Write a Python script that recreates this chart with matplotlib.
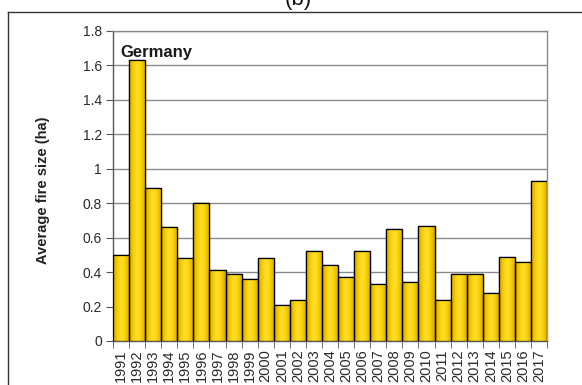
import numpy as np
import matplotlib
matplotlib.use("Agg")
import matplotlib.pyplot as plt
from matplotlib.lines import Line2D
from matplotlib.colors import LinearSegmentedColormap

plt.rcParams['font.family'] = ['Liberation Sans', 'DejaVu Sans']

years = [str(y) for y in range(1991, 2018)]
avg_fire_size = [0.50, 1.63, 0.89, 0.66, 0.48, 0.80, 0.41, 0.39, 0.36, 0.48,
                 0.21, 0.24, 0.52, 0.44, 0.37, 0.52, 0.33, 0.65, 0.34, 0.67,
                 0.24, 0.39, 0.39, 0.28, 0.49, 0.46, 0.93]
y_ticks = [0, 0.2, 0.4, 0.6, 0.8, 1.0, 1.2, 1.4, 1.6, 1.8]
y_tick_labels = ["0", "0.2", "0.4", "0.6", "0.8", "1", "1.2", "1.4", "1.6", "1.8"]

fig = plt.figure(figsize=(5.82, 3.85), dpi=100)
ax = fig.add_axes([0.1942, 0.1143, 0.7457, 0.8052])

x = np.arange(len(years))
bars = ax.bar(x, avg_fire_size, width=1.0, color="#F2C200",
              edgecolor="black", linewidth=0.9, zorder=3)

# horizontal gold gradient inside each bar
gold = LinearSegmentedColormap.from_list(
    "gold", ["#D2A000", "#F8CE00", "#FFE030", "#F8CE00", "#D2A000"])
grad = np.linspace(0, 1, 64).reshape(1, -1)
for b in bars:
    x0, w, h = b.get_x(), b.get_width(), b.get_height()
    im = ax.imshow(grad, cmap=gold, aspect="auto",
                   extent=(x0, x0 + w, 0, h), zorder=3.5,
                   interpolation="bilinear")
    im.set_clip_path(b)
    # re-draw the outline above the gradient
    ax.add_patch(plt.Rectangle((x0, 0), w, h, fill=False,
                               edgecolor="black", linewidth=0.9, zorder=4))

ax.set_xlim(-0.5, len(years) - 0.5)
ax.set_ylim(0, 1.8)
ax.set_yticks(y_ticks)
ax.set_yticklabels(y_tick_labels, fontsize=10, color="#2a2a2a")
ax.yaxis.grid(True, color="#8a8a8a", linewidth=1.0, zorder=0)
ax.set_axisbelow(True)

ax.set_xticks(x)
ax.set_xticklabels(years, rotation=90, fontsize=10.5, color="#2a2a2a")
ax.tick_params(axis="x", length=0, pad=6)
ax.set_xticks(np.arange(-0.5, len(years), 1.0), minor=True)
ax.tick_params(axis="x", which="minor", length=5, color="#555555")
ax.tick_params(axis="y", length=5, color="#555555", pad=3)

for side in ("top", "right"):
    ax.spines[side].set_color("#8a8a8a")
    ax.spines[side].set_linewidth(1.0)
for side in ("left", "bottom"):
    ax.spines[side].set_color("#555555")
    ax.spines[side].set_linewidth(1.0)

ax.text(0.016, 0.955, "Germany", transform=ax.transAxes, fontsize=12,
        fontweight="bold", color="#1a1a1a", ha="left", va="top", zorder=6)

fig.text(0.074, 0.506, "Average fire size (ha)", rotation=90, fontsize=10.5,
         fontweight="bold", color="#222222", ha="center", va="center")

# panel title and surrounding frame
fig.text(0.512, 0.987, "(b)", fontsize=16, ha="center", va="baseline",
         color="#111111")
fig.add_artist(Line2D([8 / 582, 1.0], [1 - 12 / 385, 1 - 12 / 385],
                      transform=fig.transFigure, color="#333333", linewidth=1.0))
fig.add_artist(Line2D([8 / 582, 8 / 582], [0, 1 - 12 / 385],
                      transform=fig.transFigure, color="#333333", linewidth=1.0))

fig.savefig("out.png", dpi=100)
